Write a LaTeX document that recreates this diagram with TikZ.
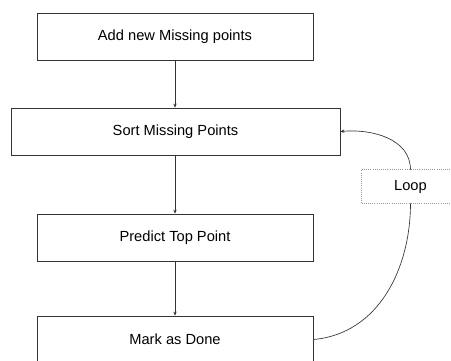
\documentclass[tikz,border=0pt]{standalone}
\usepackage{fontspec}
\setmainfont{Liberation Sans}
\usetikzlibrary{arrows.meta}
\begin{document}
\begin{tikzpicture}[x=0.75pt,y=-0.75pt,
  box/.style={draw=black!80,line width=0.6pt,rectangle,minimum height=35.25pt,font=\fontsize{11}{13}\selectfont,inner sep=0pt},
  loopbox/.style={rectangle,minimum width=73.5pt,minimum height=24.75pt,font=\fontsize{11}{13}\selectfont,inner sep=0pt},
  loopframe/.style={draw=black!40,densely dotted,line width=0.6pt},
  arr/.style={draw=black!80,line width=0.5pt,-{Stealth[length=3pt,width=2.6pt]}},
  link/.style={draw=black!80,line width=0.5pt}]
\useasboundingbox (0,0) rectangle (451,361);
\node[box,minimum width=207pt] (add) at (175,36.5) {Add new Missing points};
\node[box,minimum width=246.75pt] (sort) at (175.5,131.5) {Sort Missing Points};
\node[box,minimum width=207pt] (pred) at (175,237.5) {Predict Top Point};
\node[box,minimum width=207pt] (mark) at (175,339.5) {Mark as Done};
\node[loopbox] (loop) at (410.5,186.5) {Loop};
\draw[loopframe] (loop.south west) rectangle ([xshift=15pt]loop.north east);
\draw[arr] (add.south) -- (add.south |- sort.north);
\draw[arr] (sort.south -| pred.north) -- (pred.north);
\draw[arr] (pred.south) -- (mark.north);
\draw[link] (mark.east) to[out=5,in=-90] (loop.south);
\draw[arr] (loop.north) to[out=90,in=5] (sort.east);
\end{tikzpicture}
\end{document}
